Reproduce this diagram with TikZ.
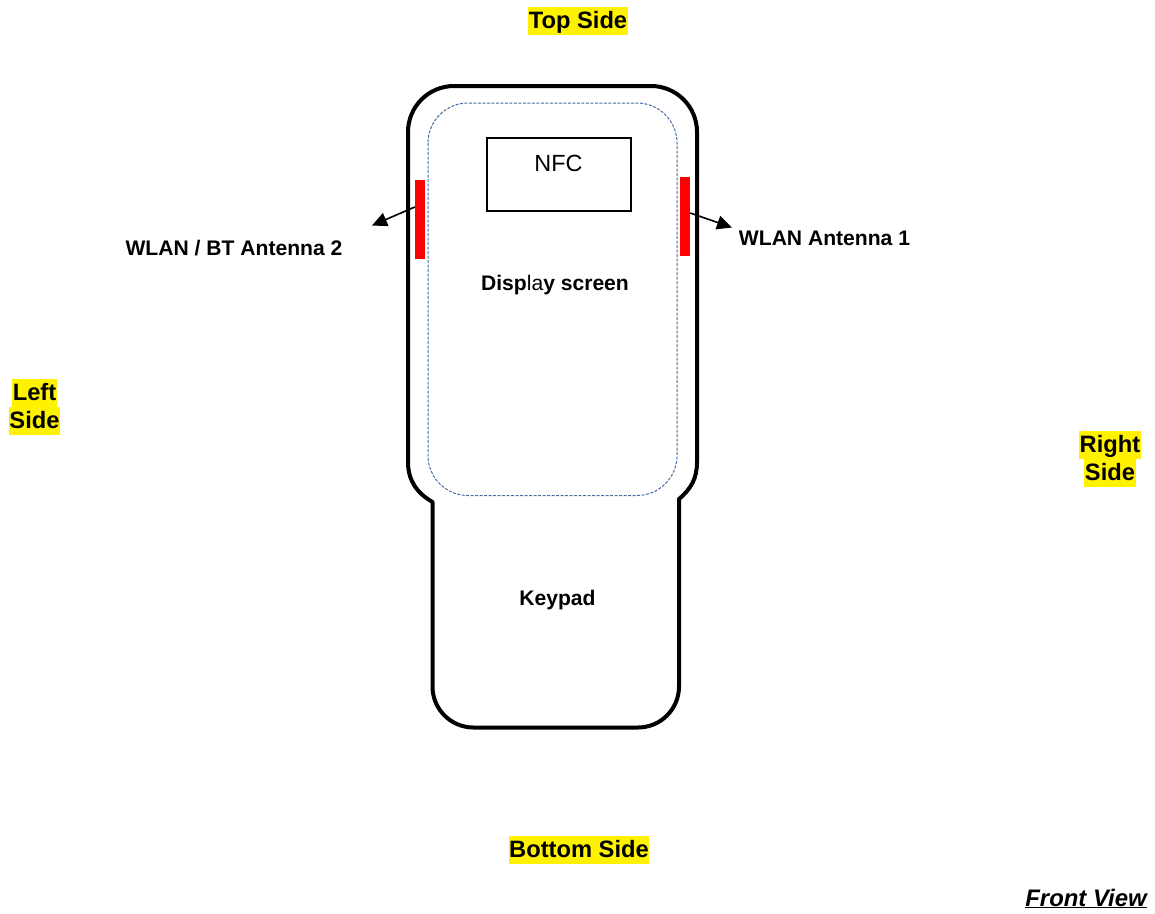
\documentclass[tikz,border=0pt]{standalone}
\usepackage{fontspec}
\setmainfont{Liberation Sans}
\usetikzlibrary{arrows.meta,calc}
\definecolor{screenline}{RGB}{70,108,160}

\begin{document}
\begin{tikzpicture}[x=1pt,y=-1pt,>={Triangle[length=15pt,width=14pt]}]
			\tikzstyle{side}=[fill=yellow,inner xsep=.5pt,inner ysep=0pt,text height=21pt,text depth=7pt,font=\fontsize{23.7}{28}\selectfont\bfseries]
			\tikzstyle{part}=[inner sep=0pt,anchor=base,font=\fontsize{21.1}{25}\selectfont\bfseries]
			\tikzstyle{antenna}=[fill=red,inner sep=0pt,minimum width=10pt,minimum height=79pt]
			\useasboundingbox (0,0) rectangle (1155,913);
			%Outline
			\draw[line width=4pt,line join=round]
			(432.5,502) to [out=150,in=-90] (408,462)
			[rounded corners=46pt] -- (408,86) -- (697,86) [rounded corners=0pt] -- (697,462)
			to [out=-90,in=40] (679,499)
			[rounded corners=41pt] -- (679,727.5) -- (432.5,727.5) [rounded corners=0pt] -- cycle;
			%Screen
			\draw[dash pattern=on 3pt off 1.5pt,line width=1pt,color=screenline,rounded corners=40pt] (428,103) rectangle (677,495.5);
			\node[draw,line width=2pt,inner sep=0pt,minimum width=144pt,minimum height=73pt](nfc) at (559,174.5){};
			\node[inner sep=0pt,anchor=base,font=\fontsize{23.4}{28}\selectfont](nfclabel) at (558.5,171){NFC};
			\node[part](display) at (555,290){Disp{\mdseries la}y screen};
			\node[part](keypad) at (557.5,605.5){Keypad};
			%Antennas
			\node[antenna](ant2) at (420,219.5){};
			\node[antenna](ant1) at (685,216.5){};
			\coordinate (tip2) at (372,225.5);
			\coordinate (tip1) at (732,227.5);
			\draw[line width=1.6pt,->]([yshift=12.5pt]ant2.west)--(tip2);
			\draw[line width=1.6pt,->]([yshift=3.5pt]ant1.east)--(tip1);
			\node[part](ant2label) at (234,255){WLAN / BT Antenna 2};
			\node[part](ant1label) at (824.5,245){WLAN Antenna 1};
			%Sides
			\node[side](top) at (578,21){Top Side};
			\node[side](bottom) at (579,850){Bottom Side};
			\node[side](leftA) at (34.5,393){Left};
			\node[side](leftB) at (34.5,421){Side};
			\node[side](rightA) at (1110,445){Right};
			\node[side](rightB) at (1110,473){Side};
			%View
			\node[inner sep=0pt,anchor=base,font=\fontsize{23.9}{28}\selectfont\bfseries\itshape](view) at (1086,906){\underline{Front View}};
\end{tikzpicture}
\end{document}
